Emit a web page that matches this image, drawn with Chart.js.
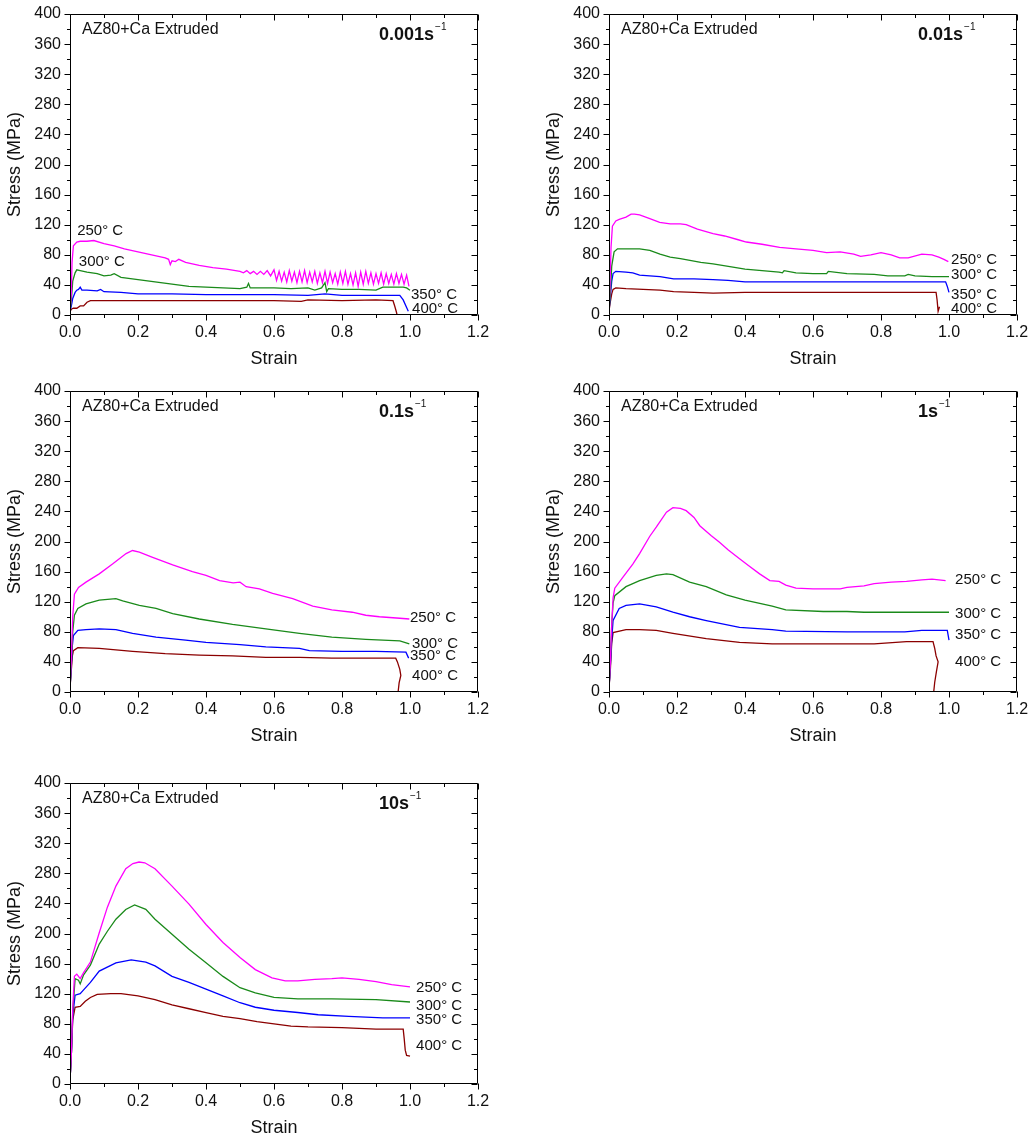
<!DOCTYPE html>
<html><head><meta charset="utf-8">
<script src="https://cdn.jsdelivr.net/npm/chart.js@4"></script>
<style>
html,body{margin:0;padding:0;background:#fff;}
body{width:1035px;height:1139px;position:relative;overflow:hidden}
canvas{position:absolute}
</style></head><body>
<canvas id="c0" width="500" height="375" style="left:0px;top:2px"></canvas>
<canvas id="c1" width="500" height="375" style="left:539px;top:2px"></canvas>
<canvas id="c2" width="500" height="375" style="left:0px;top:379px"></canvas>
<canvas id="c3" width="500" height="375" style="left:539px;top:379px"></canvas>
<canvas id="c4" width="500" height="375" style="left:0px;top:771px"></canvas>
<script>
// ---------- categories / labels ----------
const temps = ['250° C', '300° C', '350° C', '400° C'];
const rateLabels = ['0.001s', '0.01s', '0.1s', '1s', '10s'];
const alloyLabel = 'AZ80+Ca Extruded';
const xTickValues = [0, 0.2, 0.4, 0.6, 0.8, 1.0, 1.2];
const yTickValues = [0, 40, 80, 120, 160, 200, 240, 280, 320, 360, 400];

// ---------- 0.001 s^-1 ----------
const r1_250_x = [0, 0.004, 0.006, 0.01, 0.02, 0.03, 0.05, 0.07, 0.1, 0.13, 0.16, 0.2, 0.24, 0.28, 0.29, 0.295, 0.3, 0.31, 0.32, 0.34, 0.38, 0.42, 0.46, 0.5, 0.51, 0.52, 0.53, 0.54, 0.55, 0.56, 0.57, 0.58, 0.59,
  0.600, 0.6075, 0.615, 0.6225, 0.630, 0.6375, 0.645, 0.6525, 0.660, 0.6675, 0.675, 0.6825, 0.690, 0.6975, 0.705, 0.7125, 0.720, 0.7275, 0.735, 0.7425,
  0.750, 0.7575, 0.765, 0.7725, 0.780, 0.7875, 0.795, 0.8025, 0.810, 0.8175, 0.825, 0.8325, 0.840, 0.8475, 0.855, 0.8625, 0.870, 0.8775, 0.885, 0.8925,
  0.900, 0.9075, 0.915, 0.9225, 0.930, 0.9375, 0.945, 0.9525, 0.960, 0.9675, 0.975, 0.9825, 0.990, 0.997];
const r1_250_y = [5, 30, 70, 92, 97, 98, 98, 99, 95, 92, 88, 84, 80, 76, 74, 67, 72, 71, 74, 70, 66, 63, 61, 58, 56, 59, 55, 58, 54, 58, 54, 59, 52,
  60, 46, 58, 45, 57, 44, 59, 45, 57, 43, 58, 44, 59, 43, 57, 44, 58, 42, 56, 43,
  58, 42, 57, 43, 55, 41, 57, 42, 58, 41, 55, 40, 56, 38, 57, 41, 58, 42, 56, 41,
  55, 42, 56, 41, 55, 42, 54, 41, 55, 42, 54, 41, 53, 38];
const r1_300_x = [0, 0.004, 0.008, 0.015, 0.02, 0.03, 0.05, 0.08, 0.1, 0.12, 0.13, 0.15, 0.2, 0.25, 0.3, 0.35, 0.4, 0.45, 0.5, 0.52, 0.525, 0.53, 0.6, 0.65, 0.7, 0.72, 0.74, 0.75, 0.755, 0.76, 0.8, 0.85, 0.9, 0.92, 0.95, 0.98, 0.99, 1.0];
const r1_300_y = [5, 20, 45, 56, 60, 59, 57, 55, 52, 53, 55, 50, 47, 44, 41, 38, 37, 36, 35, 37, 42, 36, 36, 35, 36, 33, 36, 43, 31, 35, 34, 34, 33, 37, 37, 37, 36, 33];
const r1_350_x = [0, 0.004, 0.008, 0.015, 0.02, 0.025, 0.03, 0.035, 0.05, 0.08, 0.09, 0.1, 0.15, 0.2, 0.3, 0.4, 0.5, 0.6, 0.7, 0.75, 0.8, 0.9, 0.97, 0.98, 0.99, 0.995];
const r1_350_y = [5, 12, 22, 30, 33, 34, 37, 33, 33, 32, 34, 31, 30, 28, 28, 27, 27, 27, 26, 28, 26, 26, 26, 20, 10, 5];
const r1_400_x = [0, 0.005, 0.01, 0.02, 0.03, 0.04, 0.05, 0.06, 0.1, 0.2, 0.3, 0.4, 0.5, 0.6, 0.68, 0.7, 0.8, 0.9, 0.95, 0.955, 0.96, 0.962];
const r1_400_y = [5, 8, 9, 9, 12, 12, 17, 19, 19, 19, 19, 19, 19, 19, 18, 20, 19, 20, 19, 12, 4, 0];

// ---------- 0.01 s^-1 ----------
const r2_250_x = [0, 0.003, 0.006, 0.01, 0.02, 0.03, 0.05, 0.065, 0.075, 0.09, 0.12, 0.149, 0.18, 0.21, 0.227, 0.26, 0.306, 0.34, 0.38, 0.404, 0.45, 0.502, 0.55, 0.6, 0.64, 0.68, 0.72, 0.74, 0.77, 0.8, 0.83, 0.855, 0.88, 0.92, 0.95, 0.97, 0.985, 0.998];
const r2_250_y = [5, 40, 90, 118, 125, 127, 130, 134, 134, 133, 128, 123, 121, 121, 120, 114, 108, 105, 100, 97, 94, 90, 88, 86, 83, 84, 81, 78, 80, 83, 80, 76, 76, 81, 80, 77, 74, 71];
const r2_300_x = [0, 0.004, 0.008, 0.015, 0.025, 0.05, 0.09, 0.12, 0.15, 0.18, 0.21, 0.27, 0.306, 0.36, 0.4, 0.45, 0.5, 0.51, 0.515, 0.55, 0.6, 0.64, 0.645, 0.7, 0.78, 0.8, 0.82, 0.87, 0.88, 0.9, 0.95, 1.0];
const r2_300_y = [5, 30, 65, 84, 88, 88, 88, 86, 81, 77, 75, 70, 68, 64, 61, 59, 57, 56, 59, 56, 55, 55, 58, 55, 54, 53, 52, 52, 54, 52, 51, 51];
const r2_350_x = [0, 0.003, 0.008, 0.012, 0.02, 0.05, 0.07, 0.09, 0.15, 0.19, 0.25, 0.306, 0.35, 0.4, 0.5, 0.6, 0.7, 0.8, 0.9, 0.99, 0.995, 1.0];
const r2_350_y = [5, 20, 45, 55, 58, 57, 56, 53, 51, 48, 48, 47, 46, 44, 44, 44, 44, 44, 44, 44, 38, 30];
const r2_400_x = [0, 0.003, 0.008, 0.012, 0.02, 0.05, 0.1, 0.15, 0.19, 0.25, 0.306, 0.4, 0.6, 0.8, 0.9, 0.962, 0.965, 0.968, 0.972];
const r2_400_y = [5, 15, 28, 34, 36, 35, 34, 33, 31, 30, 29, 30, 30, 30, 30, 30, 20, 5, 11];

// ---------- 0.1 s^-1 ----------
const r3_250_x = [0, 0.004, 0.008, 0.013, 0.025, 0.047, 0.086, 0.125, 0.165, 0.184, 0.204, 0.243, 0.302, 0.36, 0.4, 0.44, 0.48, 0.5, 0.518, 0.557, 0.596, 0.655, 0.714, 0.77, 0.83, 0.87, 0.91, 0.97, 0.998];
const r3_250_y = [5, 45, 100, 130, 139, 146, 157, 170, 184, 188, 186, 179, 169, 160, 155, 148, 145, 146, 140, 137, 131, 124, 114, 109, 106, 102, 100, 98, 97];
const r3_300_x = [0, 0.004, 0.008, 0.013, 0.023, 0.047, 0.086, 0.135, 0.155, 0.204, 0.253, 0.302, 0.38, 0.478, 0.576, 0.675, 0.77, 0.87, 0.97, 0.998];
const r3_300_y = [5, 40, 80, 102, 111, 117, 122, 124, 121, 115, 111, 104, 97, 90, 84, 78, 73, 70, 68, 64];
const r3_350_x = [0, 0.004, 0.007, 0.01, 0.023, 0.047, 0.086, 0.135, 0.184, 0.253, 0.34, 0.4, 0.5, 0.576, 0.675, 0.704, 0.8, 0.9, 0.988, 0.996];
const r3_350_y = [5, 35, 62, 75, 82, 83, 84, 83, 78, 73, 69, 66, 63, 60, 58, 55, 54, 54, 53, 45];
const r3_400_x = [0, 0.004, 0.007, 0.01, 0.023, 0.086, 0.184, 0.28, 0.38, 0.478, 0.576, 0.675, 0.77, 0.87, 0.958, 0.963, 0.97, 0.973, 0.968, 0.965];
const r3_400_y = [5, 30, 48, 55, 59, 58, 54, 51, 49, 48, 46, 46, 45, 45, 45, 40, 30, 22, 12, 0];

// ---------- 1 s^-1 ----------
const r4_250_x = [0, 0.004, 0.008, 0.012, 0.017, 0.04, 0.07, 0.09, 0.12, 0.139, 0.169, 0.188, 0.21, 0.227, 0.25, 0.267, 0.3, 0.325, 0.35, 0.384, 0.41, 0.443, 0.473, 0.5, 0.52, 0.55, 0.6, 0.65, 0.68, 0.7, 0.75, 0.78, 0.83, 0.875, 0.92, 0.95, 0.99];
const r4_250_y = [5, 40, 90, 125, 138, 152, 170, 184, 207, 219, 239, 245, 244, 241, 232, 221, 208, 199, 189, 177, 168, 157, 148, 147, 142, 138, 137, 137, 137, 139, 141, 144, 146, 147, 149, 150, 148];
const r4_300_x = [0, 0.004, 0.008, 0.012, 0.017, 0.05, 0.09, 0.139, 0.169, 0.188, 0.237, 0.286, 0.345, 0.4, 0.48, 0.52, 0.63, 0.7, 0.75, 0.8, 0.9, 1.0];
const r4_300_y = [5, 40, 90, 118, 128, 140, 148, 155, 157, 156, 146, 140, 129, 122, 114, 109, 107, 107, 106, 106, 106, 106];
const r4_350_x = [0, 0.004, 0.008, 0.012, 0.03, 0.05, 0.09, 0.139, 0.188, 0.237, 0.286, 0.384, 0.48, 0.52, 0.7, 0.87, 0.92, 0.995, 1.0];
const r4_350_y = [5, 35, 70, 95, 111, 115, 117, 113, 106, 100, 95, 86, 83, 81, 80, 80, 82, 82, 69];
const r4_400_x = [0, 0.004, 0.008, 0.012, 0.05, 0.09, 0.139, 0.188, 0.286, 0.384, 0.48, 0.6, 0.78, 0.875, 0.953, 0.958, 0.962, 0.968, 0.963, 0.958, 0.955];
const r4_400_y = [5, 30, 65, 79, 83, 83, 82, 78, 71, 66, 64, 64, 64, 67, 67, 58, 48, 40, 27, 13, 0];

// ---------- 10 s^-1 ----------
const r5_250_x = [0, 0.004, 0.008, 0.013, 0.02, 0.03, 0.04, 0.05, 0.06, 0.086, 0.11, 0.135, 0.164, 0.185, 0.203, 0.22, 0.25, 0.3, 0.35, 0.4, 0.45, 0.5, 0.545, 0.594, 0.633, 0.67, 0.72, 0.77, 0.8, 0.85, 0.9, 0.946, 1.0];
const r5_250_y = [5, 40, 100, 143, 146, 140, 148, 155, 162, 201, 235, 263, 286, 293, 295, 294, 286, 263, 239, 212, 188, 168, 152, 141, 137, 137, 139, 140, 141, 139, 136, 132, 129];
const r5_300_x = [0, 0.004, 0.008, 0.015, 0.025, 0.03, 0.04, 0.06, 0.086, 0.11, 0.135, 0.164, 0.19, 0.223, 0.25, 0.3, 0.35, 0.4, 0.45, 0.5, 0.545, 0.6, 0.67, 0.77, 0.9, 1.0];
const r5_300_y = [5, 40, 95, 140, 138, 133, 145, 158, 186, 203, 219, 232, 238, 232, 219, 199, 179, 161, 143, 128, 121, 115, 113, 113, 112, 109];
const r5_350_x = [0, 0.004, 0.008, 0.015, 0.03, 0.04, 0.06, 0.086, 0.135, 0.18, 0.223, 0.25, 0.3, 0.35, 0.4, 0.45, 0.5, 0.545, 0.6, 0.67, 0.73, 0.82, 0.92, 1.0];
const r5_350_y = [5, 40, 90, 118, 120, 125, 135, 150, 161, 165, 162, 157, 143, 135, 126, 117, 108, 102, 98, 95, 92, 90, 88, 88];
const r5_400_x = [0, 0.004, 0.008, 0.015, 0.03, 0.045, 0.06, 0.08, 0.12, 0.15, 0.2, 0.25, 0.3, 0.35, 0.4, 0.45, 0.5, 0.55, 0.6, 0.65, 0.7, 0.8, 0.9, 0.98, 0.983, 0.986, 0.99, 1.0];
const r5_400_y = [5, 40, 85, 102, 103, 110, 115, 119, 120, 120, 117, 112, 105, 100, 95, 90, 87, 83, 80, 77, 76, 75, 73, 73, 60, 45, 38, 37];

// ---------- series label anchors (strain, stress) ----------
const r1_labelAt = [[0.021, 111.6], [0.026, 70.4], [1.003, 26.6], [1.006, 8]];
const r2_labelAt = [[1.006, 73], [1.006, 53], [1.006, 26.6], [1.006, 8]];
const r3_labelAt = [[1.0, 98.3], [1.006, 63.8], [1.0, 47.8], [1.006, 21.3]];
const r4_labelAt = [[1.018, 148.8], [1.018, 103.7], [1.018, 75.7], [1.018, 39.9]];
const r5_labelAt = [[1.018, 128], [1.018, 104], [1.018, 85.3], [1.018, 50.7]];

// ---------- assemble ----------
const panels = [
  {rate: rateLabels[0], series: [[r1_250_x, r1_250_y], [r1_300_x, r1_300_y], [r1_350_x, r1_350_y], [r1_400_x, r1_400_y]], labelAt: r1_labelAt},
  {rate: rateLabels[1], series: [[r2_250_x, r2_250_y], [r2_300_x, r2_300_y], [r2_350_x, r2_350_y], [r2_400_x, r2_400_y]], labelAt: r2_labelAt},
  {rate: rateLabels[2], series: [[r3_250_x, r3_250_y], [r3_300_x, r3_300_y], [r3_350_x, r3_350_y], [r3_400_x, r3_400_y]], labelAt: r3_labelAt},
  {rate: rateLabels[3], series: [[r4_250_x, r4_250_y], [r4_300_x, r4_300_y], [r4_350_x, r4_350_y], [r4_400_x, r4_400_y]], labelAt: r4_labelAt},
  {rate: rateLabels[4], series: [[r5_250_x, r5_250_y], [r5_300_x, r5_300_y], [r5_350_x, r5_350_y], [r5_400_x, r5_400_y]], labelAt: r5_labelAt}
];

const colors = ['#ff00ff', '#1a8a1a', '#0000ff', '#8b0000'];
const FONT = "'Liberation Sans', Arial, sans-serif";

const framePlugin = {
  id: 'frame',
  afterDraw(chart, args, opts) {
    const {ctx, chartArea: {left, right, top, bottom}, scales: {x, y}} = chart;
    ctx.save();
    ctx.strokeStyle = '#000';
    ctx.lineWidth = 1;
    const L = Math.round(left) + 0.5, R = Math.round(right) - 0.5, T = Math.round(top) + 0.5, B = Math.round(bottom) - 0.5;
    ctx.beginPath();
    ctx.rect(L, T, R - L, B - T);
    for (let v = 0; v <= 400; v += 20) {
      const py = Math.round(y.getPixelForValue(v)) + 0.5;
      const len = v % 40 === 0 ? 6 : 3.5;
      ctx.moveTo(L - len, py); ctx.lineTo(L, py);
      ctx.moveTo(R, py); ctx.lineTo(R - len, py);
    }
    for (let i = 0; i <= 12; i++) {
      const px = Math.round(x.getPixelForValue(i / 10)) + 0.5;
      const len = i % 2 === 0 ? 6 : 3.5;
      ctx.moveTo(px, B); ctx.lineTo(px, B + len);
      ctx.moveTo(px, T); ctx.lineTo(px, T + len);
    }
    ctx.stroke();

    ctx.fillStyle = '#111';
    ctx.textAlign = 'left';
    ctx.textBaseline = 'alphabetic';
    ctx.font = '16px ' + FONT;
    ctx.fillText(alloyLabel, left + 12, top + 20);
    ctx.font = 'bold 18px ' + FONT;
    const rx = left + 309;
    ctx.fillText(opts.rate, rx, top + 26);
    const w = ctx.measureText(opts.rate).width;
    ctx.font = '10px ' + FONT;
    ctx.fillText('\u22121', rx + w + 1, top + 16);

    ctx.font = '15px ' + FONT;
    ctx.textBaseline = 'middle';
    opts.labelAt.forEach((p, i) => {
      ctx.fillText(temps[i], x.getPixelForValue(p[0]), y.getPixelForValue(p[1]));
    });
    ctx.restore();
  }
};

panels.forEach((p, idx) => {
  const datasets = p.series.map((s, i) => ({
    label: temps[i],
    data: s[0].map((xv, k) => ({x: xv, y: s[1][k]})),
    borderColor: colors[i],
    borderWidth: 1.3,
    pointRadius: 0,
    fill: false,
    tension: 0
  }));
  new Chart(document.getElementById('c' + idx), {
    type: 'line',
    data: {datasets},
    plugins: [framePlugin],
    options: {
      responsive: false,
      animation: false,
      events: [],
      layout: {padding: {top: 12, right: 22, left: 0, bottom: 0}},
      plugins: {
        legend: {display: false},
        tooltip: {enabled: false},
        frame: {rate: p.rate, labelAt: p.labelAt}
      },
      scales: {
        x: {
          type: 'linear', min: 0, max: 1.2,
          afterBuildTicks: s => { s.ticks = xTickValues.map(v => ({value: v})); },
          afterFit: s => { s.height = 62; s.paddingLeft = 0; s.paddingRight = 0; },
          grid: {display: false, drawTicks: false},
          border: {display: false},
          ticks: {
            padding: 8, maxRotation: 0, autoSkip: false, color: '#111',
            font: {family: FONT, size: 16},
            callback: v => Number(v).toFixed(1)
          },
          title: {display: true, text: 'Strain', color: '#111', font: {family: FONT, size: 18}, padding: {top: 0, bottom: 7}}
        },
        y: {
          type: 'linear', min: 0, max: 400,
          afterBuildTicks: s => { s.ticks = yTickValues.map(v => ({value: v})); },
          afterFit: s => { s.width = 70; s.paddingTop = 0; s.paddingBottom = 0; },
          grid: {display: false, drawTicks: false},
          border: {display: false},
          ticks: {
            padding: 9, autoSkip: false, color: '#111',
            font: {family: FONT, size: 16}
          },
          title: {display: true, text: 'Stress (MPa)', color: '#111', font: {family: FONT, size: 18}, padding: {top: 4, bottom: 0}}
        }
      }
    }
  });
});
</script>
</body></html>
